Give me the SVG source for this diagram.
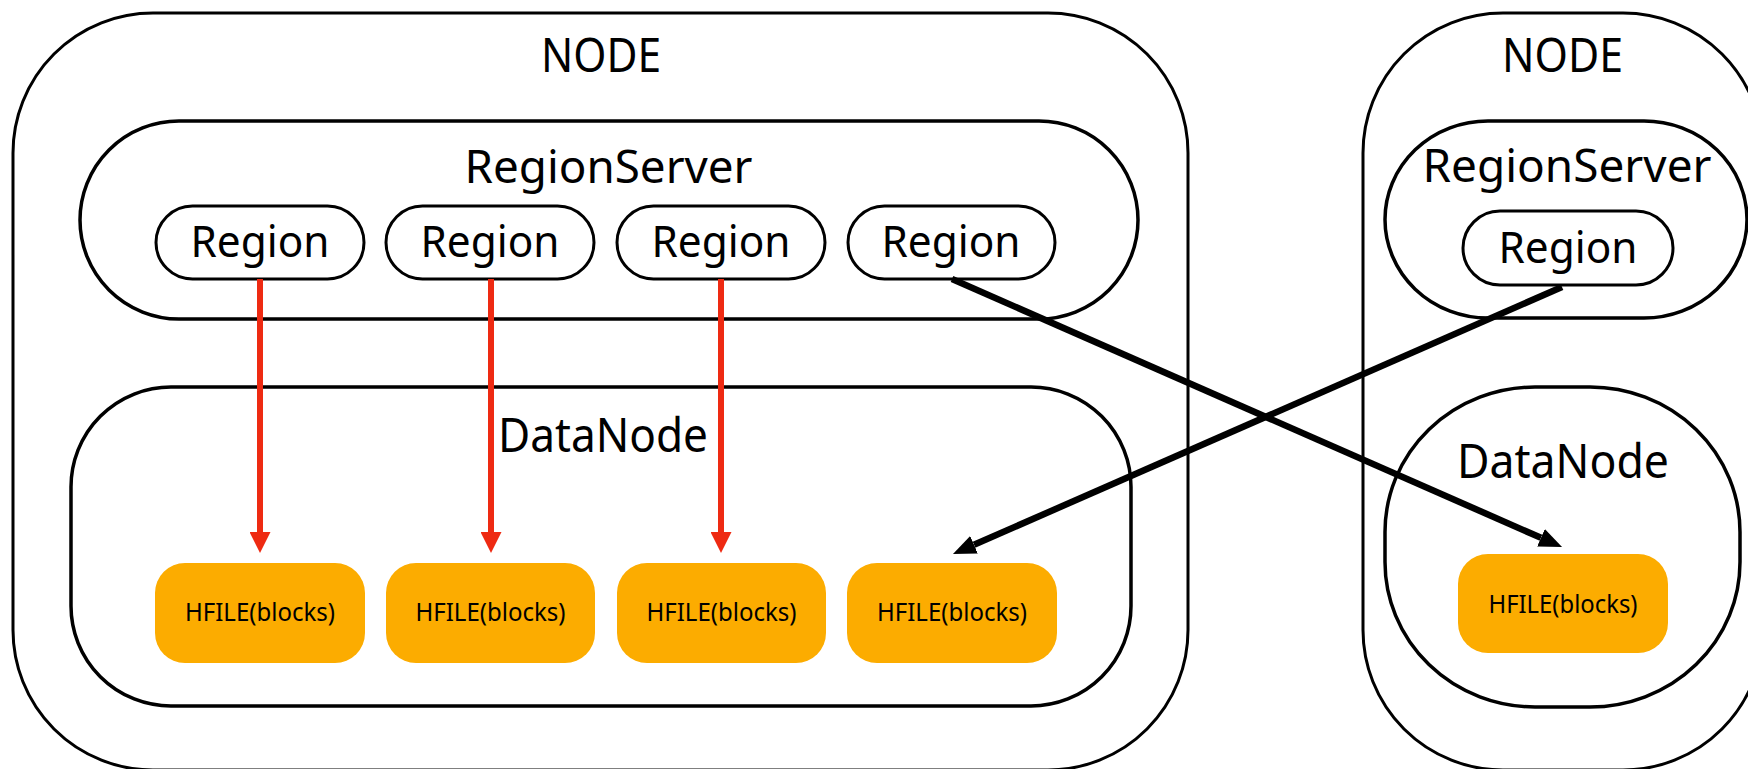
<svg xmlns="http://www.w3.org/2000/svg" width="1748" height="769" viewBox="0 0 1748 769">
<style>
.node{fill:#fff;stroke:#000;stroke-width:3}
.inner{fill:#fff;stroke:#000;stroke-width:3.5}
.pill{fill:#fff;stroke:#000;stroke-width:3}
.hf{fill:#FCAC00}
.t{font-family:"Noto Sans","DejaVu Sans",sans-serif;fill:#000;text-anchor:middle}
.big{font-size:47px}
.rs{font-size:46px}
.rg{font-size:43px}
.hft{font-size:25px}
.red{stroke:#EE2A12;stroke-width:6;fill:none}
.blk{stroke:#000;stroke-width:6.5;fill:none}
</style>
<defs>
<marker id="ah-red" markerUnits="userSpaceOnUse" markerWidth="21" markerHeight="21" viewBox="0 0 21 21" refX="0" refY="10.5" orient="auto">
<path d="M0,0 L21,10.5 L0,21 Z" fill="#EE2A12"/>
</marker>
<marker id="ah-blk" markerUnits="userSpaceOnUse" markerWidth="23" markerHeight="19" viewBox="0 0 23 19" refX="0" refY="9.5" orient="auto">
<path d="M0,0 L23,9.5 L0,19 Z" fill="#000"/>
</marker>
</defs>

<g id="node-left">
<rect class="node" x="13" y="13" width="1175" height="757" rx="140" ry="140"/>
<text class="t big" x="601" y="72" textLength="120" lengthAdjust="spacingAndGlyphs">NODE</text>
</g>
<g id="node-right">
<rect class="node" x="1363" y="13" width="400" height="757" rx="140" ry="140"/>
<text class="t big" x="1562.5" y="72" textLength="121" lengthAdjust="spacingAndGlyphs">NODE</text>
</g>

<g id="regionserver-left">
<rect class="inner" x="80" y="121" width="1058" height="198" rx="99" ry="99"/>
<text class="t rs" x="608.5" y="183" textLength="288" lengthAdjust="spacingAndGlyphs">RegionServer</text>
</g>
<g id="regionserver-right">
<rect class="inner" x="1385" y="121" width="362" height="197" rx="103" ry="98.5"/>
<text class="t rs" x="1567" y="182" textLength="289" lengthAdjust="spacingAndGlyphs">RegionServer</text>
</g>

<g id="datanode-left">
<rect class="inner" x="71" y="387" width="1060" height="319" rx="100" ry="100"/>
<text class="t big" x="603" y="452" textLength="210" lengthAdjust="spacingAndGlyphs">DataNode</text>
</g>
<g id="datanode-right">
<rect class="inner" x="1385" y="387" width="355" height="320" rx="150" ry="145"/>
<text class="t big" x="1563" y="478" textLength="212" lengthAdjust="spacingAndGlyphs">DataNode</text>
</g>

<g id="region-1">
<rect class="pill" x="156" y="206" width="208" height="73" rx="36.5"/>
<text class="t rg" x="260" y="257" textLength="139" lengthAdjust="spacingAndGlyphs">Region</text>
</g>
<g id="region-2">
<rect class="pill" x="386" y="206" width="208" height="73" rx="36.5"/>
<text class="t rg" x="490" y="257" textLength="139" lengthAdjust="spacingAndGlyphs">Region</text>
</g>
<g id="region-3">
<rect class="pill" x="617" y="206" width="208" height="73" rx="36.5"/>
<text class="t rg" x="721" y="257" textLength="139" lengthAdjust="spacingAndGlyphs">Region</text>
</g>
<g id="region-4">
<rect class="pill" x="848" y="206" width="207" height="73" rx="36.5"/>
<text class="t rg" x="951" y="257" textLength="139" lengthAdjust="spacingAndGlyphs">Region</text>
</g>
<g id="region-5">
<rect class="pill" x="1463" y="211" width="210" height="74" rx="37"/>
<text class="t rg" x="1568" y="263" textLength="139" lengthAdjust="spacingAndGlyphs">Region</text>
</g>

<g id="hfile-1">
<rect class="hf" x="155" y="563" width="210" height="100" rx="30"/>
<text class="t hft" x="260" y="621" textLength="150" lengthAdjust="spacingAndGlyphs">HFILE(blocks)</text>
</g>
<g id="hfile-2">
<rect class="hf" x="386" y="563" width="209" height="100" rx="30"/>
<text class="t hft" x="490.5" y="621" textLength="150" lengthAdjust="spacingAndGlyphs">HFILE(blocks)</text>
</g>
<g id="hfile-3">
<rect class="hf" x="617" y="563" width="209" height="100" rx="30"/>
<text class="t hft" x="721.5" y="621" textLength="150" lengthAdjust="spacingAndGlyphs">HFILE(blocks)</text>
</g>
<g id="hfile-4">
<rect class="hf" x="847" y="563" width="210" height="100" rx="30"/>
<text class="t hft" x="952" y="621" textLength="150" lengthAdjust="spacingAndGlyphs">HFILE(blocks)</text>
</g>
<g id="hfile-5">
<rect class="hf" x="1458" y="554" width="210" height="99" rx="30"/>
<text class="t hft" x="1563" y="613" textLength="149" lengthAdjust="spacingAndGlyphs">HFILE(blocks)</text>
</g>

<g id="connectors">
<line class="red" x1="260" y1="279" x2="260" y2="532" marker-end="url(#ah-red)"/>
<line class="red" x1="491" y1="279" x2="491" y2="532" marker-end="url(#ah-red)"/>
<line class="red" x1="721" y1="279" x2="721" y2="532" marker-end="url(#ah-red)"/>
<line class="blk" x1="952" y1="279" x2="1541" y2="537.8" marker-end="url(#ah-blk)"/>
<line class="blk" x1="1562" y1="287" x2="974" y2="544.8" marker-end="url(#ah-blk)"/>
</g>
</svg>
